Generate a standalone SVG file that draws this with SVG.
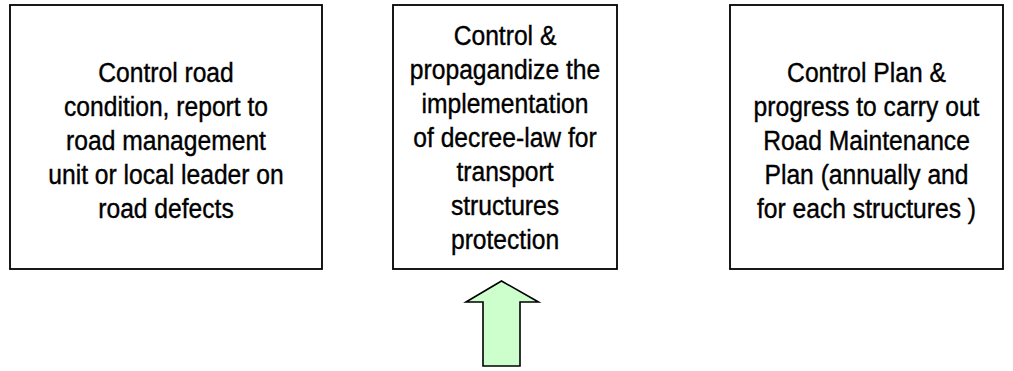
<svg xmlns="http://www.w3.org/2000/svg" width="1013" height="371" viewBox="0 0 1013 371">
<style>
.box{fill:#fff;stroke:#000;stroke-width:1.8}
.t{font-family:"Liberation Sans",Arial,sans-serif;font-size:28px;fill:#000;stroke:#000;stroke-width:0.4;text-anchor:middle}
.arrow{fill:#ccffcc;stroke:#000;stroke-width:1.6;stroke-linejoin:miter}
</style>
<rect width="1013" height="371" fill="#fff"/>
<g id="node-road-condition">
<rect class="box" x="10" y="5" width="312" height="264"/>
<g transform="translate(166,0) scale(0.88,1)">
<text class="t"><tspan x="0" y="82">Control road</tspan><tspan x="0" y="116">condition, report to</tspan><tspan x="0" y="150">road management</tspan><tspan x="0" y="184">unit or local leader on</tspan><tspan x="0" y="218">road defects</tspan></text>
</g>
</g>
<g id="node-decree-law">
<rect class="box" x="393" y="5" width="224" height="264"/>
<g transform="translate(505,0) scale(0.88,1)">
<text class="t"><tspan x="0" y="45">Control &amp;</tspan><tspan x="0" y="79">propagandize the</tspan><tspan x="0" y="113">implementation</tspan><tspan x="0" y="147">of decree-law for</tspan><tspan x="0" y="181">transport</tspan><tspan x="0" y="215">structures</tspan><tspan x="0" y="249">protection</tspan></text>
</g>
</g>
<g id="node-maintenance-plan">
<rect class="box" x="730" y="5" width="273" height="264"/>
<g transform="translate(866.5,0) scale(0.88,1)">
<text class="t"><tspan x="0" y="82">Control Plan &amp;</tspan><tspan x="0" y="116">progress to carry out</tspan><tspan x="0" y="150">Road Maintenance</tspan><tspan x="0" y="184">Plan (annually and</tspan><tspan x="0" y="218">for each structures )</tspan></text>
</g>
</g>
<g id="connectors">
<path class="arrow" d="M501.5,281 L538.5,302 L520,302 L520,366 L483,366 L483,302 L466,302 Z"/>
</g>
</svg>
